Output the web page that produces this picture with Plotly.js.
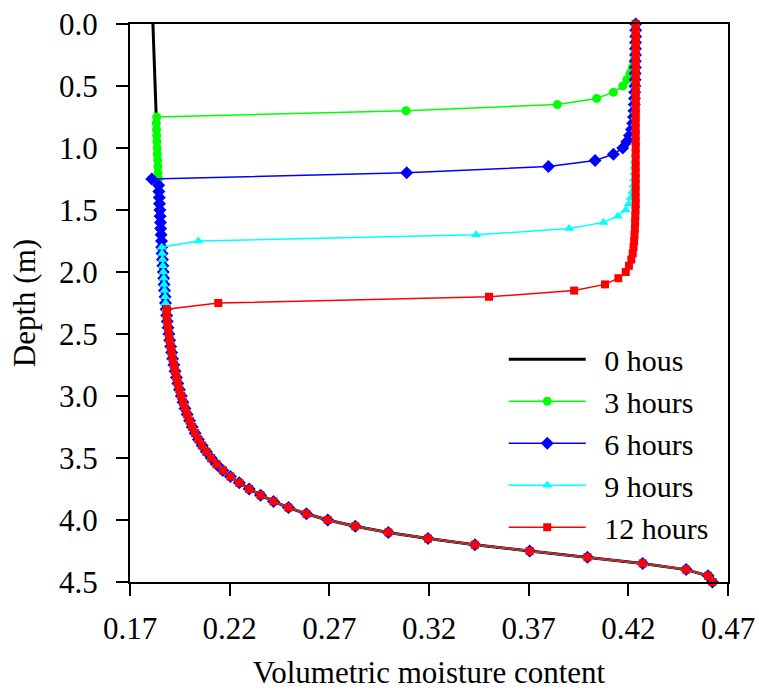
<!DOCTYPE html>
<html>
<head>
<meta charset="utf-8">
<script src="https://cdn.plot.ly/plotly-3.0.1.min.js"></script>
<style>html,body{margin:0;padding:0;background:#fff;}#chart{width:759px;height:690px;}</style>
</head>
<body>
<div id="chart"></div>
<script>
// Depth nodes (m)
const depth = [
0.00,0.05,0.10,0.15,0.20,0.25,0.30,0.35,0.40,0.45,
0.50,0.55,0.60,0.65,0.70,0.75,0.80,0.85,0.90,0.95,
1.00,1.05,1.10,1.15,1.20,1.25,1.30,1.35,1.40,1.45,
1.50,1.55,1.60,1.65,1.70,1.75,1.80,1.85,1.90,1.95,
2.00,2.05,2.10,2.15,2.20,2.25,2.30,2.35,2.40,2.45,
2.50,2.55,2.60,2.65,2.70,2.75,2.80,2.85,2.90,2.95,
3.00,3.05,3.10,3.15,3.20,3.25,3.30,3.35,3.40,3.45,
3.50,3.55,3.60,3.65,3.70,3.75,3.80,3.85,3.90,3.95,
4.00,4.05,4.10,4.15,4.20,4.25,4.30,4.35,4.40,4.45,
4.50];

// Volumetric moisture content, 0 hours
const theta0h = [
0.1815,0.1816,0.1817,0.1818,0.1819,0.1820,0.1821,0.1822,0.1823,0.1824,
0.1825,0.1826,0.1827,0.1828,0.1829,0.1831,0.1832,0.1833,0.1834,0.1835,
0.1836,0.1837,0.1839,0.1840,0.1841,0.1843,0.1844,0.1845,0.1847,0.1848,
0.1850,0.1851,0.1853,0.1854,0.1856,0.1858,0.1859,0.1861,0.1863,0.1865,
0.1867,0.1869,0.1871,0.1873,0.1876,0.1878,0.1881,0.1884,0.1887,0.1891,
0.1895,0.1899,0.1904,0.1909,0.1914,0.1920,0.1926,0.1933,0.1940,0.1948,
0.1957,0.1966,0.1976,0.1987,0.1999,0.2012,0.2027,0.2043,0.2062,0.2083,
0.2107,0.2134,0.2166,0.2204,0.2248,0.2298,0.2355,0.2420,0.2495,0.2585,
0.2692,0.2830,0.2996,0.3195,0.3430,0.3705,0.3995,0.4272,0.4490,0.4600,
0.4622];

// 3 hours
const theta3h = [
0.4236,0.4236,0.4235,0.4234,0.4233,0.4231,0.4227,0.4220,0.4208,0.4192,
0.4172,0.4125,0.4041,0.3844,0.3085,0.1834,0.1832,0.1833,0.1834,0.1835,
0.1836,0.1837,0.1839,0.1840,0.1841,0.1843,0.1844,0.1845,0.1847,0.1848,
0.1850,0.1851,0.1853,0.1854,0.1856,0.1858,0.1859,0.1861,0.1863,0.1865,
0.1867,0.1869,0.1871,0.1873,0.1876,0.1878,0.1881,0.1884,0.1887,0.1891,
0.1895,0.1899,0.1904,0.1909,0.1914,0.1920,0.1926,0.1933,0.1940,0.1948,
0.1957,0.1966,0.1976,0.1987,0.1999,0.2012,0.2027,0.2043,0.2062,0.2083,
0.2107,0.2134,0.2166,0.2204,0.2248,0.2298,0.2355,0.2420,0.2495,0.2585,
0.2692,0.2830,0.2996,0.3195,0.3430,0.3705,0.3995,0.4272,0.4490,0.4600,
0.4622];

// 6 hours
const theta6h = [
0.4237,0.4237,0.4237,0.4236,0.4236,0.4236,0.4235,0.4235,0.4234,0.4234,
0.4233,0.4232,0.4231,0.4230,0.4228,0.4226,0.4222,0.4216,0.4206,0.4192,
0.4172,0.4125,0.4033,0.3799,0.3088,0.1809,0.1844,0.1845,0.1847,0.1848,
0.1850,0.1851,0.1853,0.1854,0.1856,0.1858,0.1859,0.1861,0.1863,0.1865,
0.1867,0.1869,0.1871,0.1873,0.1876,0.1878,0.1881,0.1884,0.1887,0.1891,
0.1895,0.1899,0.1904,0.1909,0.1914,0.1920,0.1926,0.1933,0.1940,0.1948,
0.1957,0.1966,0.1976,0.1987,0.1999,0.2012,0.2027,0.2043,0.2062,0.2083,
0.2107,0.2134,0.2166,0.2204,0.2248,0.2298,0.2355,0.2420,0.2495,0.2585,
0.2692,0.2830,0.2996,0.3195,0.3430,0.3705,0.3995,0.4272,0.4490,0.4600,
0.4622];

// 9 hours
const theta9h = [
0.4237,0.4237,0.4237,0.4237,0.4237,0.4237,0.4237,0.4237,0.4237,0.4237,
0.4237,0.4237,0.4236,0.4236,0.4236,0.4236,0.4236,0.4236,0.4236,0.4236,
0.4235,0.4234,0.4233,0.4232,0.4230,0.4228,0.4225,0.4220,0.4212,0.4202,
0.4187,0.4147,0.4075,0.3903,0.3436,0.2043,0.1859,0.1861,0.1863,0.1865,
0.1867,0.1869,0.1871,0.1873,0.1876,0.1878,0.1881,0.1884,0.1887,0.1891,
0.1895,0.1899,0.1904,0.1909,0.1914,0.1920,0.1926,0.1933,0.1940,0.1948,
0.1957,0.1966,0.1976,0.1987,0.1999,0.2012,0.2027,0.2043,0.2062,0.2083,
0.2107,0.2134,0.2166,0.2204,0.2248,0.2298,0.2355,0.2420,0.2495,0.2585,
0.2692,0.2830,0.2996,0.3195,0.3430,0.3705,0.3995,0.4272,0.4490,0.4600,
0.4622];

// 12 hours
const theta12h = [
0.4237,0.4237,0.4237,0.4237,0.4237,0.4237,0.4237,0.4237,0.4237,0.4237,
0.4237,0.4237,0.4237,0.4237,0.4237,0.4237,0.4237,0.4237,0.4237,0.4237,
0.4237,0.4237,0.4237,0.4237,0.4237,0.4237,0.4237,0.4237,0.4237,0.4237,
0.4236,0.4235,0.4234,0.4233,0.4231,0.4229,0.4226,0.4222,0.4215,0.4203,
0.4187,0.4150,0.4083,0.3928,0.3501,0.2143,0.1884,0.1884,0.1887,0.1891,
0.1895,0.1899,0.1904,0.1909,0.1914,0.1920,0.1926,0.1933,0.1940,0.1948,
0.1957,0.1966,0.1976,0.1987,0.1999,0.2012,0.2027,0.2043,0.2062,0.2083,
0.2107,0.2134,0.2166,0.2204,0.2248,0.2298,0.2355,0.2420,0.2495,0.2585,
0.2692,0.2830,0.2996,0.3195,0.3430,0.3705,0.3995,0.4272,0.4490,0.4600,
0.4622];

const seriesNames = ["0 hous", "3 hours", "6 hours", "9 hours", "12 hours"];
const xTickVals = [0.17, 0.22, 0.27, 0.32, 0.37, 0.42, 0.47];
const xTickText = ["0.17", "0.22", "0.27", "0.32", "0.37", "0.42", "0.47"];
const yTickVals = [0, 0.5, 1.0, 1.5, 2.0, 2.5, 3.0, 3.5, 4.0, 4.5];
const yTickText = ["0.0", "0.5", "1.0", "1.5", "2.0", "2.5", "3.0", "3.5", "4.0", "4.5"];

const FONT = "Times New Roman, Liberation Serif, DejaVu Serif, serif";
const NB = "\u00A0\u2009";

const traces = [
  {x: theta0h, y: depth, name: NB + seriesNames[0], mode: "lines", type: "scatter",
   line: {color: "#000000", width: 3}, cliponaxis: false},
  {x: theta3h, y: depth, name: NB + seriesNames[1], mode: "lines+markers", type: "scatter",
   line: {color: "#00FF00", width: 1.5}, marker: {symbol: "circle", size: 9, color: "#00FF00"}, cliponaxis: false},
  {x: theta6h, y: depth, name: NB + seriesNames[2], mode: "lines+markers", type: "scatter",
   line: {color: "#0000FF", width: 1.5}, marker: {symbol: "diamond", size: 10, color: "#0000FF"}, cliponaxis: false},
  {x: theta9h, y: depth, name: NB + seriesNames[3], mode: "lines+markers", type: "scatter",
   line: {color: "#00FFFF", width: 1.5}, marker: {symbol: "triangle-up", size: 9, color: "#00FFFF"}, cliponaxis: false},
  {x: theta12h, y: depth, name: NB + seriesNames[4], mode: "lines+markers", type: "scatter",
   line: {color: "#FF0000", width: 1.5}, marker: {symbol: "square", size: 8, color: "#FF0000"}, cliponaxis: false}
];

const layout = {
  width: 759, height: 690,
  margin: {l: 130, r: 31, t: 24, b: 108, pad: 0},
  paper_bgcolor: "#ffffff", plot_bgcolor: "#ffffff",
  font: {family: FONT, size: 31, color: "#000000"},
  showlegend: true,
  legend: {
    x: 0.625, y: 0.446, xanchor: "left", yanchor: "top",
    bgcolor: "rgba(0,0,0,0)", borderwidth: 0,
    font: {family: FONT, size: 30, color: "#000000"},
    itemwidth: 77, tracegroupgap: 0
  },
  xaxis: {
    range: [0.17, 0.47], tickmode: "array", tickvals: xTickVals, ticktext: xTickText,
    ticks: "outside", ticklen: 12, tickwidth: 2, tickcolor: "#000",
    showline: true, linecolor: "#000", linewidth: 2, mirror: true,
    showgrid: false, zeroline: false, ticklabelstandoff: 6,
    tickfont: {family: FONT, size: 31, color: "#000"},
    title: {text: "Volumetric moisture content", font: {family: FONT, size: 31, color: "#000"}, standoff: 16}
  },
  yaxis: {
    range: [4.5, 0], tickmode: "array", tickvals: yTickVals, ticktext: yTickText,
    ticks: "outside", ticklen: 12, tickwidth: 2, tickcolor: "#000",
    showline: true, linecolor: "#000", linewidth: 2, mirror: true,
    showgrid: false, zeroline: false, ticklabelstandoff: 12,
    tickfont: {family: FONT, size: 31, color: "#000"},
    title: {text: "Depth (m)", font: {family: FONT, size: 31, color: "#000"}, standoff: 14}
  }
};

Plotly.newPlot("chart", traces, layout, {displayModeBar: false, staticPlot: true});
</script>
</body>
</html>
